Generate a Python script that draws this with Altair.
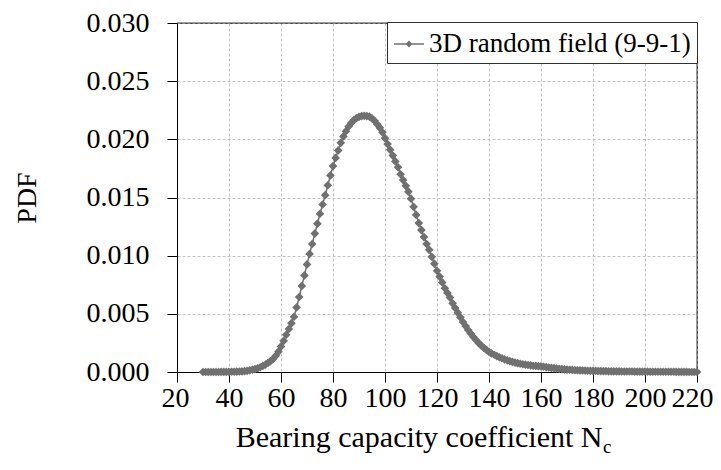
import altair as alt
import pandas as pd

# ---- data ----
nc_values = list(range(30, 221))
pdf_values = [
    # 30-39
    0.0, 0.0, 0.0, 0.0, 0.0, 0.0, 0.0, 0.00001, 0.00001, 0.00001,
    # 40-49
    0.00001, 0.00002, 0.00002, 0.00003, 0.00004, 0.00005, 0.00007, 0.00010, 0.00014, 0.00019,
    # 50-59
    0.00025, 0.00032, 0.00041, 0.00052, 0.00064, 0.00078, 0.00094, 0.00113, 0.00140, 0.00175,
    # 60-69
    0.00220, 0.00268, 0.00320, 0.00370, 0.00420, 0.00475, 0.00555, 0.00645, 0.00740, 0.00830,
    # 70-79
    0.00925, 0.01015, 0.01100, 0.01190, 0.01275, 0.01360, 0.01440, 0.01520, 0.01605, 0.01690,
    # 80-89
    0.01770, 0.01840, 0.01905, 0.01970, 0.02025, 0.02070, 0.02110, 0.02140, 0.02165, 0.02182,
    # 90-99
    0.02193, 0.02200, 0.02202, 0.02200, 0.02195, 0.02180, 0.02160, 0.02130, 0.02100, 0.02060,
    # 100-109
    0.02010, 0.01960, 0.01910, 0.01860, 0.01810, 0.01760, 0.01700, 0.01650, 0.01600, 0.01550,
    # 110-119
    0.01490, 0.01420, 0.01350, 0.01280, 0.01220, 0.01160, 0.01100, 0.01050, 0.00990, 0.00930,
    # 120-129
    0.00870, 0.00820, 0.00770, 0.00720, 0.00680, 0.00640, 0.00590, 0.00550, 0.00510, 0.00470,
    # 130-139
    0.00430, 0.00395, 0.00360, 0.00330, 0.00300, 0.00275, 0.00250, 0.00228, 0.00208, 0.00190,
    # 140-149
    0.00173, 0.00160, 0.00148, 0.00137, 0.00127, 0.00118, 0.00108, 0.00100, 0.00093, 0.00087,
    # 150-159
    0.00081, 0.00076, 0.00071, 0.00067, 0.00063, 0.00060, 0.00057, 0.00054, 0.00052, 0.00050,
    # 160-169
    0.00048, 0.00045, 0.00042, 0.00039, 0.00036, 0.00033, 0.00030, 0.00027, 0.00025, 0.00023,
    # 170-179
    0.00021, 0.00019, 0.00018, 0.00016, 0.00015, 0.00014, 0.00013, 0.00012, 0.00011, 0.00010,
    # 180-189
    0.00010, 0.00009, 0.00008, 0.00008, 0.00007, 0.00007, 0.00006, 0.00006, 0.00005, 0.00005,
    # 190-199
    0.00005, 0.00004, 0.00004, 0.00004, 0.00004, 0.00004, 0.00003, 0.00003, 0.00003, 0.00003,
    # 200-209
    0.00003, 0.00003, 0.00002, 0.00002, 0.00002, 0.00002, 0.00002, 0.00002, 0.00002, 0.00002,
    # 210-220
    0.00002, 0.00002, 0.00001, 0.00001, 0.00001, 0.00001, 0.00001, 0.0, 0.0, 0.0, 0.0,
]
series_name = "3D random field (9-9-1)"
x_ticks = [20, 40, 60, 80, 100, 120, 140, 160, 180, 200, 220]
y_ticks = [0.000, 0.005, 0.010, 0.015, 0.020, 0.025, 0.030]
x_title = "Bearing capacity coefficient N"
x_title_sub = ["c"]
y_title = "PDF"

df = pd.DataFrame({"Nc": nc_values, "PDF": pdf_values, "series": series_name})

FONT = "Liberation Serif"
GRAY = "#707070"
FRAME = "#404040"
W, H = 520, 349
N_END = 602 - 177  # where the main part of the x title ends (axis coords)
legend_symbol = "M-1,0L1,0M-0.16,0L0,-0.16L0.16,0L0,0.16Z"

curve = alt.Chart(df).mark_line(
    strokeWidth=1.5,
    point=alt.OverlayMarkDef(shape="diamond", filled=True, size=75, color=GRAY, opacity=1),
).encode(
    x=alt.X(
        "Nc:Q",
        scale=alt.Scale(domain=[20, 220], nice=False, zero=False),
        axis=alt.Axis(
            values=x_ticks,
            title=x_title,
            titleX=N_END,
            titleY=74,
            titleAlign="right",
            titleBaseline="alphabetic",
            titleFontSize=30,
            labelPadding=2,
            labelOverlap=False,
            labelFlush=True,
            labelFlushOffset=16,
        ),
    ),
    y=alt.Y(
        "PDF:Q",
        scale=alt.Scale(domain=[0, 0.03], nice=False),
        axis=alt.Axis(
            values=y_ticks,
            format=".3f",
            title=y_title,
            titleX=-150,
            titleY=H / 2,
            titleAngle=270,
            titleAlign="center",
            titleBaseline="middle",
            labelPadding=18,
            labelOverlap=False,
            labelFlush=False,
        ),
    ),
    color=alt.Color(
        "series:N",
        scale=alt.Scale(domain=[series_name], range=[GRAY]),
        legend=alt.Legend(
            title=None,
            orient="none",
            legendX=210,
            legendY=-1,
            padding=6,
            strokeColor="#303030",
            fillColor="white",
            labelFont=FONT,
            labelFontSize=27,
            labelColor="black",
            labelOffset=4,
            labelLimit=500,
            symbolType=legend_symbol,
            symbolSize=900,
            symbolStrokeWidth=1.5,
            symbolStrokeColor=GRAY,
            symbolFillColor=GRAY,
            symbolOpacity=1,
        ),
    ),
)

one = pd.DataFrame({"k": [0]})
top_border = alt.Chart(one).mark_rule(color=FRAME, strokeWidth=1).encode(
    x=alt.value(0), x2=alt.value(W), y=alt.value(0)
)
right_border = alt.Chart(one).mark_rule(color=FRAME, strokeWidth=1).encode(
    x=alt.value(W), y=alt.value(0), y2=alt.value(H)
)

sub = alt.Chart(pd.DataFrame({"sub": x_title_sub})).mark_text(
    font=FONT, fontSize=19, align="left", baseline="alphabetic", color="black"
).encode(
    text="sub:N",
    x=alt.value(N_END + 1),
    y=alt.value(453 - 23),
)

chart = alt.layer(top_border, right_border, curve, sub).properties(
    width=W,
    height=H,
    autosize=alt.AutoSizeParams(type="none"),
    padding={"left": 169, "top": 15, "right": 16, "bottom": 90},
    background="white",
).configure_view(
    stroke=FRAME, strokeWidth=1
).configure_axis(
    labelFont=FONT,
    labelFontSize=28,
    labelColor="black",
    titleFont=FONT,
    titleFontSize=28,
    titleFontWeight="normal",
    titleColor="black",
    domainColor="black",
    domainWidth=1,
    tickColor="black",
    tickSize=10,
    tickWidth=1,
    grid=True,
    gridColor="#c4c4c4",
    gridDash=[3, 2],
    gridWidth=1,
)

chart.save("out.html", embed_options={"renderer": "svg", "actions": False})
